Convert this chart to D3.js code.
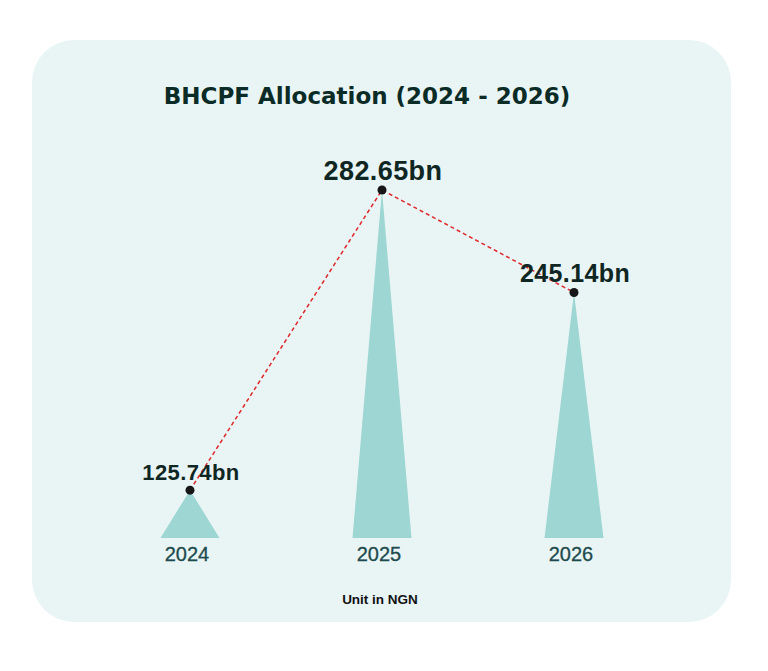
<!DOCTYPE html>
<html>
<head>
<meta charset="utf-8">
<script src="https://cdn.jsdelivr.net/npm/d3@7"></script>
<style>
  body { margin: 0; background: #ffffff; }
  svg { display: block; }
</style>
</head>
<body>
<div id="chart"></div>
<script>
var years = ["2024", "2025", "2026"];
var values = [125.74, 282.65, 245.14];
var valueLabels = ["125.74bn", "282.65bn", "245.14bn"];
var labelSizes = [22, 27, 25];

var max_w = 768;
var max_h = 671;

var svg = d3.select("#chart")
  .append("svg")
    .attr("width", max_w)
    .attr("height", max_h);

// card background
svg.append("rect")
  .attr("x", 32)
  .attr("y", 40)
  .attr("width", 699)
  .attr("height", 582)
  .attr("rx", 42)
  .attr("fill", "#e9f5f5");

var baseY = 538;

var x = d3.scalePoint()
  .domain(years)
  .range([190, 574]);

// heights are not linear in the original, a power scale fits them
var y = d3.scalePow()
  .exponent(2.45)
  .domain([0, d3.max(values)])
  .range([baseY, 190]);

var halfW = 29.5;

var data = years.map(function(d, i){
  return {year: d, value: values[i], label: valueLabels[i], size: labelSizes[i]};
});

// triangles
svg.selectAll(".tri")
  .data(data)
  .enter().append("path")
    .attr("class", "tri")
    .attr("fill", "#9dd6d3")
    .attr("d", function(d){
      var cx = x(d.year);
      return "M" + (cx - halfW) + "," + baseY +
             "L" + cx + "," + y(d.value) +
             "L" + (cx + halfW) + "," + baseY + "Z";
    });

// dashed line through the tips
var line = d3.line()
  .x(function(d){ return x(d.year); })
  .y(function(d){ return y(d.value); });

svg.append("path")
  .datum(data)
  .attr("fill", "none")
  .attr("stroke", "#e0262b")
  .attr("stroke-width", 1.5)
  .attr("stroke-dasharray", "4,3")
  .attr("d", line);

svg.selectAll(".dot")
  .data(data)
  .enter().append("circle")
    .attr("class", "dot")
    .attr("cx", function(d){ return x(d.year); })
    .attr("cy", function(d){ return y(d.value); })
    .attr("r", 4.5)
    .attr("fill", "#161616");

// value labels
svg.selectAll(".val")
  .data(data)
  .enter().append("text")
    .attr("class", "val")
    .attr("x", function(d){ return x(d.year) + 1; })
    .attr("y", function(d){ return y(d.value) - 10; })
    .attr("text-anchor", "middle")
    .style("font-family", "'Liberation Sans', Arial, sans-serif")
    .style("font-weight", "bold")
    .style("font-size", function(d){ return d.size + "px"; })
    .style("letter-spacing", "0.4px")
    .style("fill", "#0f2623")
    .text(function(d){ return d.label; });

// year labels
svg.selectAll(".yr")
  .data(data)
  .enter().append("text")
    .attr("class", "yr")
    .attr("x", function(d){ return x(d.year) - 3; })
    .attr("y", 561)
    .attr("text-anchor", "middle")
    .style("font-family", "'Liberation Sans', Arial, sans-serif")
    .style("font-size", "20px")
    .style("fill", "#1d4b4d")
    .style("stroke", "#1d4b4d")
    .style("stroke-width", 0.3)
    .text(function(d){ return d.year; });

svg.append("text")
  .attr("x", 367)
  .attr("y", 104)
  .attr("text-anchor", "middle")
  .style("font-family", "'DejaVu Sans', sans-serif")
  .style("font-weight", "bold")
  .style("font-size", "23px")
  .style("fill", "#0b2b26")
  .text("BHCPF Allocation (2024 - 2026)");

svg.append("text")
  .attr("x", 380)
  .attr("y", 604)
  .attr("text-anchor", "middle")
  .style("font-family", "'Liberation Sans', Arial, sans-serif")
  .style("font-weight", "bold")
  .style("font-size", "13.5px")
  .style("fill", "#111111")
  .text("Unit in NGN");
</script>
</body>
</html>
